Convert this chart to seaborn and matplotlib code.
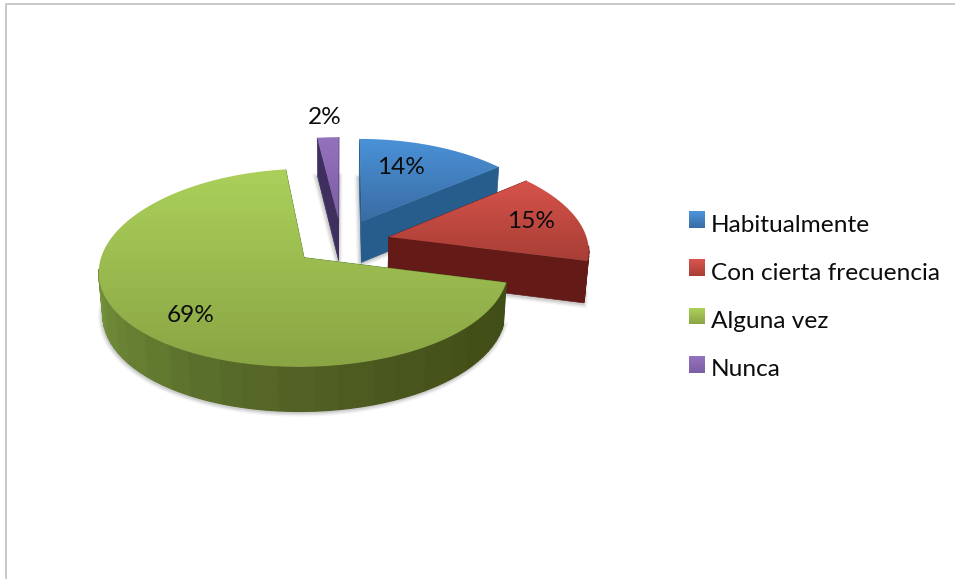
import numpy as np
import matplotlib.pyplot as plt
import seaborn as sns
from matplotlib.legend_handler import HandlerBase
from matplotlib.patches import Polygon, Rectangle

categories = ['Habitualmente', 'Con cierta frecuencia', 'Alguna vez', 'Nunca']
values = [14, 15, 69, 2]
pct_labels = ['14%', '15%', '69%', '2%']

top_light = ['#4a92d8', '#d6534b', '#abd05a', '#9572bd']
top_dark = ['#3a6ca4', '#a83e35', '#8aa544', '#7c5ea4']
side_cols = ['#265d8c', '#641b18', '#4a7a2a', '#3f2f5e']
rim_cols = ['#3f4d18', '#435018', '#4d5a20', '#5a6e2c', '#6a8434', '#7a9a3e']

# label spots in pixels
label_xy = [(401, 168), (531, 222), (191, 316), (325, 117)]

# perspective of the pie, in pixels
OX, OY = 341.5, 242
RX, RY, KP, KX = 199, 94.8, 0.101, 0.125
EXPLODE = 0.245

sns.set_theme(style='white')
plt.rcParams['font.family'] = ['Lato', 'DejaVu Sans']


def project(px, py, lower=False):
	x = OX + RX * px / (1 + KX * py)
	y = OY - RY * py / (1 + KP * py)
	if lower:
		x = OX + (x - OX) * 0.983
		y = OY + (y - OY) * 1.025 + 41.5
	return x, y


def slice_points(a1, a2, mid, lower=False, apex=True):
	th = np.radians(np.linspace(a1, a2, int(abs(a2 - a1)) + 2))
	mx, my = np.sin(np.radians(mid)) * EXPLODE, np.cos(np.radians(mid)) * EXPLODE
	x, y = project(mx + np.sin(th), my + np.cos(th), lower)
	if apex:
		ax_, ay_ = project(mx, my, lower)
		x, y = np.r_[ax_, x], np.r_[ay_, y]
	return np.c_[x, y]


def gradient_fill(ax, pts, light, dark, z):
	grad = np.array(sns.blend_palette([light, dark], n_colors=64))[:, None, :]
	patch = Polygon(pts, closed=True, fc='none', ec='none', zorder=z)
	ax.add_patch(patch)
	ext = (pts[:, 0].min(), pts[:, 0].max(), pts[:, 1].max(), pts[:, 1].min())
	im = ax.imshow(grad, extent=ext, aspect='auto', zorder=z, interpolation='bilinear')
	im.set_clip_path(patch)


def draw_slice(ax, a1, a2, i, z):
	mid = (a1 + a2) / 2
	# soft shadow round the foot
	foot = slice_points(a1, a2, mid, lower=True)
	for lw, al in [(6, 0.07), (4, 0.1), (2, 0.14)]:
		ax.add_patch(Polygon(foot + [-0.5, 1], closed=True, fc='none', ec='#555555', lw=lw, alpha=al, zorder=z))
	# flat cut faces
	for ang in (a1, a2):
		up = slice_points(ang, ang, mid)
		lo = slice_points(ang, ang, mid, lower=True)
		ax.add_patch(Polygon(np.r_[up[:2], lo[:2][::-1]], closed=True, fc=side_cols[i], ec=side_cols[i], lw=0.5, zorder=z + 0.1))
	# outer rim, only the part turned to the viewer
	rim = sns.blend_palette(rim_cols, n_colors=24) if i == 2 else None
	step = np.arange(a1, a2, 3.0)
	for s in step:
		e = min(s + 3.0, a2)
		if np.cos(np.radians((s + e) / 2)) > -0.1:
			continue
		up = slice_points(s, e, mid, apex=False)
		lo = slice_points(s, e, mid, lower=True, apex=False)
		if rim is not None:
			c = rim[int(np.clip((s - 90) / 180 * 23, 0, 23))]
		else:
			c = side_cols[i]
		ax.add_patch(Polygon(np.r_[up, lo[::-1]], closed=True, fc=c, ec=c, lw=0.9, zorder=z + 0.2))
	gradient_fill(ax, slice_points(a1, a2, mid), top_light[i], top_dark[i], z + 0.3)


class SwatchHandler(HandlerBase):
	def create_artists(self, legend, orig, x0, y0, w, h, fontsize, trans):
		i = categories.index(orig.get_label())
		cols = sns.blend_palette([top_dark[i], top_light[i]], n_colors=16)
		bands = []
		for n, c in enumerate(cols):
			bands.append(Rectangle((x0, y0 + 3 + h * n / 16), w, h / 16 + 0.3, fc=c, ec='none', transform=trans))
		return bands


fig = plt.figure(figsize=(9.55, 5.79), dpi=100)
ax = fig.add_axes([0, 0, 1, 1])

ends = np.cumsum(values) / np.sum(values) * 360
starts = np.r_[0, ends[:-1]]
# back slices first
for z, i in enumerate([3, 0, 1, 2]):
	draw_slice(ax, starts[i], ends[i], i, z + 1)

for txt, (x, y) in zip(pct_labels, label_xy):
	ax.text(x, y, txt, ha='center', va='center', fontsize=17.6, color='#0c0c0c', zorder=10)

# chart frame
ax.plot([6, 6, 955], [579, 4, 4], color='#c4c4c4', lw=1.3, zorder=0, solid_joinstyle='miter')

handles = [Rectangle((0, 0), 1, 1, label=c) for c in categories]
leg = ax.legend(handles=handles, loc='upper left', bbox_to_anchor=(689, 215), bbox_transform=ax.transData,
	frameon=False, fontsize=17.6, borderpad=0, borderaxespad=0, handlelength=0.66, handleheight=0.66,
	handletextpad=0.25, labelspacing=1.11, labelcolor='#0c0c0c',
	handler_map={Rectangle: SwatchHandler()})

ax.set_xlim(0, 955)
ax.set_ylim(579, 0)
ax.axis('off')
fig.savefig('out.png', dpi=100)
